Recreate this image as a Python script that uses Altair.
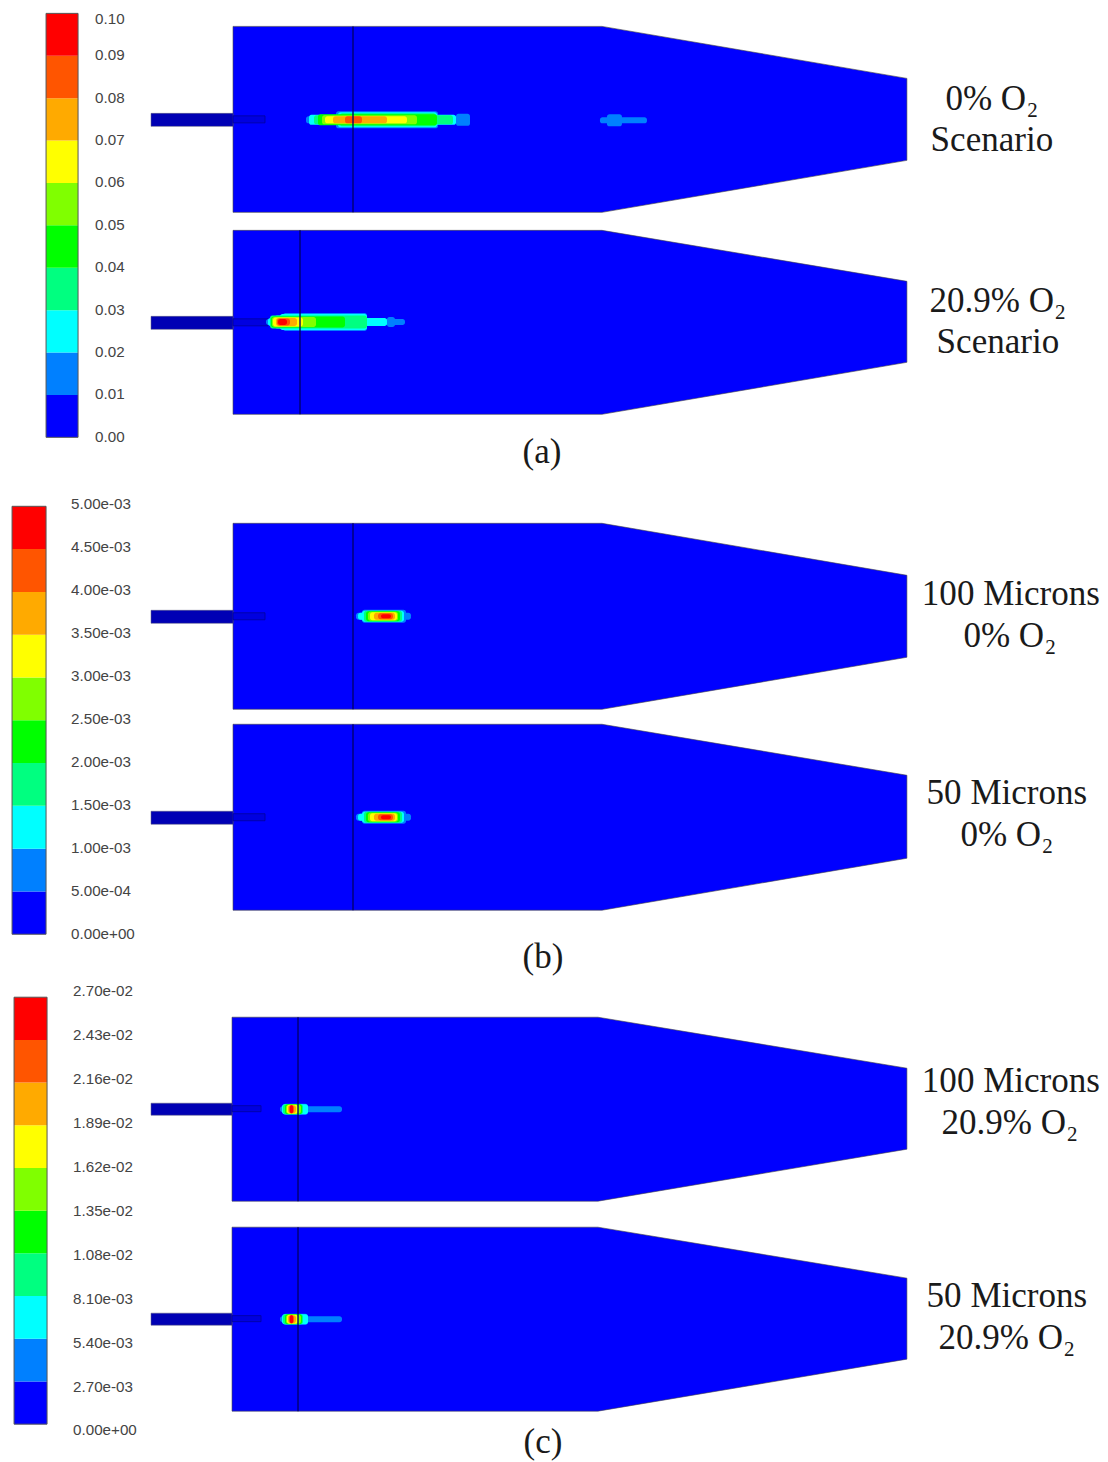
import altair as alt
import pandas as pd

# --- colour bands of the contour legend (low to high)
band_colors = ["#0000ff", "#0080ff", "#00ffff", "#00ff80", "#00ff00",
               "#80ff00", "#ffff00", "#ffaa00", "#ff5500", "#ff0000"]

# --- colour bars
bar_names = ["a", "b", "c"]
bar_x0 = [46, 12, 14]
bar_x1 = [78, 46, 47]
bar_top = [13, 506, 997]
bar_bottom = [437, 934, 1424]
label_x = [95, 71, 73]
labels_a = ["0.10", "0.09", "0.08", "0.07", "0.06", "0.05", "0.04", "0.03", "0.02", "0.01", "0.00"]
labels_b = ["5.00e-03", "4.50e-03", "4.00e-03", "3.50e-03", "3.00e-03", "2.50e-03",
            "2.00e-03", "1.50e-03", "1.00e-03", "5.00e-04", "0.00e+00"]
labels_c = ["2.70e-02", "2.43e-02", "2.16e-02", "1.89e-02", "1.62e-02", "1.35e-02",
            "1.08e-02", "8.10e-03", "5.40e-03", "2.70e-03", "0.00e+00"]
labels_y_a = [19, 55, 98, 140, 182, 225, 267, 310, 352, 394, 437]
labels_y_b = [504, 547, 590, 633, 676, 719, 762, 805, 848, 891, 934]
labels_y_c = [991, 1035, 1079, 1123, 1167, 1211, 1255, 1299, 1343, 1387, 1430]

# --- combustor panels
panel_names = ["a1", "a2", "b1", "b2", "c1", "c2"]
wall_x0 = [233, 233, 233, 233, 232, 232]
wall_x1 = [602, 602, 602, 602, 598, 598]
outlet_x = [907, 907, 907, 907, 907, 907]
wall_top = [26, 230, 523, 724, 1017, 1227]
wall_bottom = [212, 414, 709, 910, 1201, 1411]
outlet_top = [78, 281, 575, 775, 1068, 1278]
outlet_bottom = [160, 362, 657, 858, 1149, 1359]
probe_x = [353, 300, 353, 353, 298, 298]
tube_top = [113, 316, 610, 811, 1103, 1313]
tube_bottom = [126, 329, 623, 824, 1115, 1325]
tube_x0 = [151, 151, 151, 151, 151, 151]
tube_x1 = [265, 268, 265, 265, 261, 261]

# --- plume contours: (colour band, x start, x end, half thickness)
plume_center = [119.5, 321.7, 616, 817, 1109, 1319]
plume_a1 = [(1, 306, 470, 3.5), (1, 456, 470, 6), (1, 336, 438, 8.5),
            (2, 309, 456, 5), (2, 338, 437, 7.5),
            (3, 314, 453, 4.5), (3, 340, 436, 6.5),
            (4, 318, 437, 5.5), (5, 322, 417, 4.5), (6, 325, 407, 3.5),
            (7, 333, 387, 3.5), (8, 345, 362, 3.5)]
plume_a2 = [(1, 266, 405, 3), (1, 387, 395, 5), (1, 283, 367, 9), (1, 275, 367, 7),
            (2, 268, 387, 4), (2, 280, 367, 8), (3, 270, 367, 6.5),
            (4, 271, 345, 5.5), (5, 272, 316, 5), (6, 273, 303, 4.5),
            (7, 276, 297, 4), (8, 277, 290, 3.5), (9, 278, 287, 3)]
plume_b = [(1, 356, 411, 3.5), (1, 362, 406, 6.5), (2, 358, 404, 3.5), (2, 362, 404, 5.5),
           (3, 364, 402, 5.5), (4, 366, 400, 5), (5, 368, 398, 4.5), (6, 370, 397, 4),
           (7, 374, 395, 3.5), (8, 378, 393, 3), (9, 381, 391, 2)]
plume_c = [(1, 280, 342, 3), (1, 283, 308, 5.5), (2, 282, 308, 5), (3, 283, 303, 5),
           (4, 285, 302, 5), (5, 286, 301, 4.5), (6, 287, 298, 4.5), (7, 288, 296, 4),
           (8, 289, 294, 4), (9, 290, 293, 4)]
plumes = [plume_a1, plume_a2, plume_b, plume_b, plume_c, plume_c]
# the weak secondary plume further downstream in the first panel
plume_a1_far = [(1, 600, 647, 3), (1, 607, 622, 6)]
plume_a1_far_center = 120

# --- captions
caption_text = ["0% O₂", "Scenario", "20.9% O₂", "Scenario", "100 Microns", "0% O₂",
                "50 Microns", "0% O₂", "100 Microns", "20.9% O₂", "50 Microns", "20.9% O₂",
                "(a)", "(b)", "(c)"]
caption_x = [992, 992, 998, 998, 1011, 1010, 1007, 1007, 1011, 1010, 1007, 1007, 542, 543, 543]
caption_y = [99, 140, 301, 342, 594, 636, 793, 835, 1081, 1123, 1296, 1338, 452, 957, 1442]

# ---------------------------------------------------------------- tables
bands, bar_frames, label_rows = [], [], []
for name, x0, x1, top, bottom, lx, labs, lys in zip(
        bar_names, bar_x0, bar_x1, bar_top, bar_bottom, label_x,
        [labels_a, labels_b, labels_c], [labels_y_a, labels_y_b, labels_y_c]):
    step = (bottom - top) / len(band_colors)
    for i, _ in enumerate(band_colors):
        bands.append({"x0": x0, "x1": x1, "y0": bottom - i * step,
                      "y1": bottom - (i + 1) * step, "band": i})
    bar_frames.append({"x0": x0, "x1": x1, "y0": top, "y1": bottom})
    for t, y in zip(labs, lys):
        label_rows.append({"x": lx, "y": y, "t": t})

taper_layers, tube_rows, inner_rows, probe_rows, plume_rows = [], [], [], [], []
for i, name in enumerate(panel_names):
    taper_layers.append(pd.DataFrame({
        "x": [wall_x0[i], wall_x1[i], outlet_x[i]],
        "y0": [wall_top[i], wall_top[i], outlet_top[i]],
        "y1": [wall_bottom[i], wall_bottom[i], outlet_bottom[i]],
    }))
    tube_rows.append({"x0": tube_x0[i], "x1": wall_x0[i], "y0": tube_top[i], "y1": tube_bottom[i]})
    inner_rows.append({"x0": wall_x0[i], "x1": tube_x1[i], "y0": tube_top[i] + 2.5, "y1": tube_bottom[i] - 3.5})
    probe_rows.append({"x": probe_x[i], "y0": wall_top[i], "y1": wall_bottom[i]})
    for band, x0, x1, half in plumes[i]:
        plume_rows.append({"x0": x0, "x1": x1, "y0": plume_center[i] - half,
                           "y1": plume_center[i] + half, "band": band})
for band, x0, x1, half in plume_a1_far:
    plume_rows.append({"x0": x0, "x1": x1, "y0": plume_a1_far_center - half,
                       "y1": plume_a1_far_center + half, "band": band})
plume_rows.sort(key=lambda r: r["band"])

captions = pd.DataFrame({"t": caption_text, "x": caption_x, "y": caption_y})

# ---------------------------------------------------------------- scales
SHRINK = 0.9929
X = alt.Scale(domain=[7.94, 7.94 + 1100 * SHRINK], range=[0, 1100], nice=False, zero=False)
Y = alt.Scale(domain=[12.9, 12.9 + 1454 * SHRINK], range=[0, 1454], nice=False, zero=False)
COL = alt.Scale(domain=list(range(len(band_colors))), range=band_colors)


def rects(rows, **mark):
    return alt.Chart(pd.DataFrame(rows)).mark_rect(**mark).encode(
        x=alt.X("x0:Q", scale=X, axis=None), x2="x1:Q",
        y=alt.Y("y0:Q", scale=Y, axis=None), y2="y1:Q")


color_enc = alt.Color("band:O", scale=COL, legend=None)

bar_layer = rects(bands).encode(color=color_enc)
bar_outline = rects(bar_frames, fill="transparent", stroke="#555555", strokeWidth=1)
bar_labels = alt.Chart(pd.DataFrame(label_rows)).mark_text(
    align="left", baseline="middle", font="Liberation Sans", fontSize=15.3, color="#444444"
).encode(x=alt.X("x:Q", scale=X, axis=None), y=alt.Y("y:Q", scale=Y, axis=None), text="t:N")

domains = [alt.Chart(df).mark_area(
    color="#0000ff", stroke="#444444", strokeWidth=0.6, interpolate="linear", orient="vertical"
).encode(x=alt.X("x:Q", scale=X, axis=None), y=alt.Y("y0:Q", scale=Y, axis=None),
         y2="y1:Q") for df in taper_layers]

tube = rects(tube_rows, color="#0000b4", stroke="#555577", strokeWidth=0.5)
inner = rects(inner_rows, color="#0000e0", stroke="#00009a", strokeWidth=0.8)
plume = rects(plume_rows, cornerRadius=2.5).encode(color=color_enc)
probe = alt.Chart(pd.DataFrame(probe_rows)).mark_rule(color="#00006e", strokeWidth=1.4).encode(
    x=alt.X("x:Q", scale=X, axis=None), y=alt.Y("y0:Q", scale=Y, axis=None), y2="y1:Q")

caption_layer = alt.Chart(captions).mark_text(
    align="center", baseline="middle", font="Liberation Serif", fontSize=35.3, color="#1a1a1a"
).encode(x=alt.X("x:Q", scale=X, axis=None), y=alt.Y("y:Q", scale=Y, axis=None), text="t:N")

chart = alt.layer(bar_layer, bar_outline, bar_labels, *domains, tube, inner, plume, probe,
                  caption_layer).resolve_scale(color="shared").properties(
    width=1100, height=1454, padding=0, background="white",
    autosize=alt.AutoSizeParams(type="none")
).configure_view(stroke=None)

chart.save("out.html", embed_options={"renderer": "svg", "actions": False})
